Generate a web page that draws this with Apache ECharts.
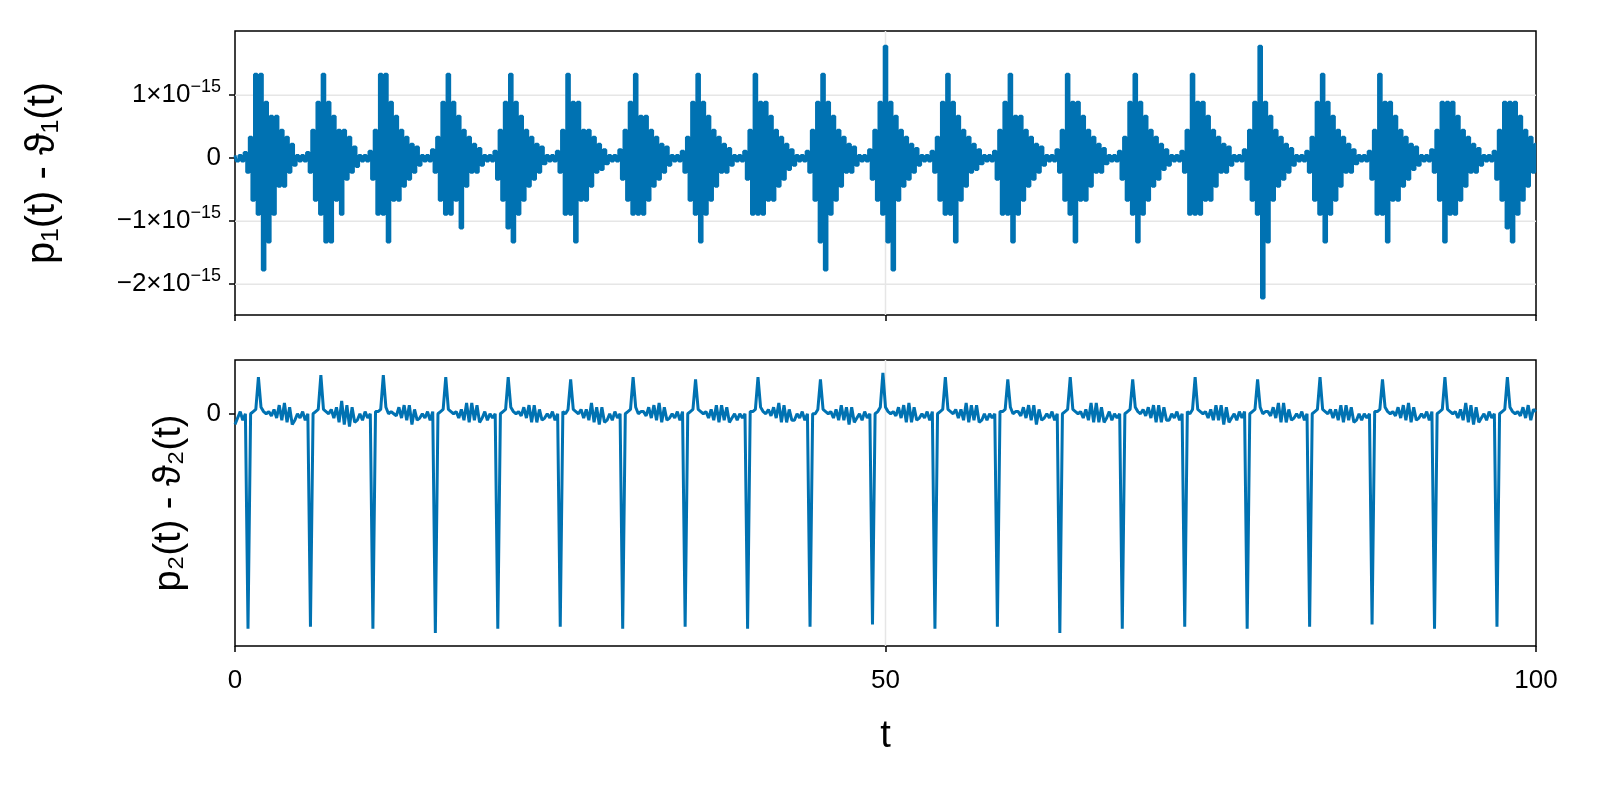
<!DOCTYPE html>
<html>
<head>
<meta charset="utf-8">
<script src="https://cdn.jsdelivr.net/npm/echarts@6/dist/echarts.min.js"></script>
<style>html,body{margin:0;padding:0;background:#fff;overflow:hidden}#chart{width:1600px;height:800px}</style>
</head>
<body>
<div id="chart"></div>
<script>
// sample step for both series (t units)
var tStep = 0.2;
var eps = 2.220446e-16;

// p1 - theta1, in units of eps, one row per oscillation period
var p1Quanta = [
  0.2,-0.2,0.2,-0.2,0.4,-1,1.5,-3,6,-4,6,-8,4,-6,3,-4,3,-2,2,-2,1.5,-1,1,-0.5,
  0.2,-0.2,0.2,-0.2,0.4,-1,2,-3,4,-4,6,-6,4,-6,3,-3,2,-4,2,-1.5,1.5,-1,0.8,-0.6,
  0.2,-0.2,0.2,-0.2,0.5,-1.5,2,-4,6,-4,6,-6,4,-3,3,-3,2,-2,1.5,-1.5,1,-1,0.8,-0.5,
  0.2,-0.2,0.2,-0.2,0.6,-1,1.5,-3,4,-4,6,-4,4,-3,3,-5,2,-2,1.5,-1,1,-1,0.7,-0.5,
  0.2,-0.2,0.2,-0.2,0.5,-1.5,2,-3,4,-5,6,-6,4,-4,3,-3,2,-2,1.5,-1.5,1,-1,0.8,-0.4,
  0.2,-0.2,0.2,-0.2,0.5,-1,2,-4,6,-4,4,-6,4,-3,2,-3,2,-2,1.5,-1,1,-0.8,0.6,-0.4,
  0.2,-0.2,0.2,-0.2,0.6,-1.5,2,-3,4,-4,6,-4,3,-4,3,-3,2,-2,1.5,-1.5,1,-1,0.8,-0.5,
  0.2,-0.2,0.2,-0.2,0.5,-1,1.5,-3,4,-4,6,-6,4,-4,3,-3,2,-2,1.5,-1,1,-1,0.7,-0.5,
  0.2,-0.2,0.2,-0.2,0.5,-1.5,2,-4,6,-4,4,-4,4,-3,3,-3,2,-2,1.5,-1.5,1,-0.8,0.6,-0.5,
  0.2,-0.2,0.2,-0.2,0.5,-1,2,-3,4,-6,6,-8,4,-4,3,-3,2,-2,1.5,-1,1,-1,0.8,-0.5,
  0.2,-0.2,0.2,-0.2,0.6,-1.5,2,-3,4,-4,8,-6,4,-8,3,-3,2,-2,1.5,-1.5,1,-1,0.7,-0.5,
  0.2,-0.2,0.2,-0.2,0.5,-1,1.5,-3,4,-4,6,-4,4,-6,3,-3,2,-2,1.5,-1,1,-0.8,0.6,-0.4,
  0.2,-0.2,0.2,-0.2,0.5,-1.5,2,-4,4,-4,6,-6,3,-4,3,-3,2,-2,1.5,-1.5,1,-1,0.8,-0.5,
  0.2,-0.2,0.2,-0.2,0.6,-1,2,-3,6,-4,4,-6,4,-3,3,-3,2,-2,1.5,-1,1,-1,0.7,-0.4,
  0.2,-0.2,0.2,-0.2,0.5,-1.5,1.5,-3,4,-4,6,-6,4,-4,3,-3,2,-2,1.5,-1.5,1,-0.8,0.6,-0.5,
  0.2,-0.2,0.2,-0.2,0.5,-1,2,-4,6,-4,4,-4,4,-3,3,-3,2,-2,1.5,-1,1,-1,0.8,-0.5,
  0.2,-0.2,0.2,-0.2,0.6,-1.5,2,-3,4,-4,8,-10,4,-6,3,-3,2,-2,1.5,-1.5,1,-1,0.7,-0.5,
  0.2,-0.2,0.2,-0.2,0.5,-1,1.5,-3,4,-4,6,-6,4,-4,3,-3,2,-2,1.5,-1,1,-1,0.6,-0.4,
  0.2,-0.2,0.2,-0.2,0.5,-1.5,2,-4,6,-4,4,-6,4,-3,3,-3,2,-2,1.5,-1.5,1,-0.8,0.8,-0.5,
  0.2,-0.2,0.2,-0.2,0.6,-1,2,-3,4,-6,4,-4,4,-4,3,-3,2,-2,1.5,-1,1,-1,0.7,-0.5,
  0.2,-0.2,0.2,-0.2,0.5,-1.5,2,-3,4,-5,4,-6,4,-4,3,-3,2,-2,1.5,-1,1
];

// p2 - theta2 (arbitrary scale, spikes near -1)
var p2Values = [
  -0.05,-0.02,0.01,-0.03,0.0,-1.0,0.0,0.01,0.02,0.17,0.03,0.01,0.0,0.01,-0.01,0.02,-0.02,0.04,-0.03,0.05,-0.04,0.03,-0.05,-0.03,
  0.0,-0.02,0.01,-0.03,0.0,-0.99,0.0,0.01,0.02,0.18,0.02,0.01,0.0,0.02,-0.02,0.03,-0.04,0.06,-0.05,0.04,-0.06,0.03,-0.04,-0.03,
  0.0,-0.03,0.01,-0.02,0.0,-1.0,0.01,0.01,0.02,0.18,0.03,0.0,0.01,0.0,-0.01,0.03,-0.02,0.04,-0.03,0.04,-0.05,0.02,-0.03,-0.02,
  0.0,-0.02,0.01,-0.03,0.01,-1.02,0.0,0.01,0.02,0.17,0.02,0.01,0.0,0.01,-0.02,0.02,-0.03,0.05,-0.04,0.05,-0.03,0.04,-0.04,-0.02,
  0.01,-0.03,0.0,-0.02,0.0,-1.0,0.0,0.01,0.02,0.17,0.03,0.01,0.0,0.01,-0.01,0.03,-0.02,0.04,-0.04,0.04,-0.04,0.02,-0.03,-0.02,
  0.0,-0.02,0.01,-0.03,0.0,-0.99,0.01,0.0,0.02,0.16,0.02,0.01,0.0,0.02,-0.02,0.02,-0.03,0.05,-0.04,0.03,-0.05,0.03,-0.04,-0.03,
  0.0,-0.03,0.01,-0.02,0.0,-1.0,0.0,0.01,0.02,0.17,0.03,0.0,0.01,0.01,-0.01,0.03,-0.02,0.04,-0.03,0.05,-0.04,0.03,-0.03,-0.02,
  0.0,-0.02,0.01,-0.03,0.01,-0.99,0.0,0.01,0.02,0.16,0.02,0.01,0.0,0.01,-0.02,0.02,-0.03,0.04,-0.04,0.04,-0.03,0.03,-0.04,-0.02,
  0.0,-0.03,0.0,-0.02,0.0,-1.0,0.01,0.01,0.02,0.17,0.03,0.01,0.0,0.02,-0.01,0.03,-0.02,0.05,-0.04,0.04,-0.04,0.02,-0.03,-0.03,
  0.0,-0.02,0.01,-0.03,0.0,-0.99,0.0,0.0,0.02,0.16,0.02,0.01,0.0,0.01,-0.02,0.02,-0.03,0.04,-0.03,0.03,-0.05,0.03,-0.04,-0.02,
  0.0,-0.03,0.01,-0.02,0.0,-0.98,0.0,0.01,0.03,0.19,0.03,0.01,0.0,0.01,-0.01,0.03,-0.02,0.04,-0.04,0.05,-0.04,0.03,-0.03,-0.02,
  0.0,-0.02,0.01,-0.03,0.01,-1.0,0.0,0.01,0.02,0.17,0.02,0.01,0.0,0.02,-0.02,0.02,-0.03,0.05,-0.04,0.04,-0.03,0.04,-0.04,-0.03,
  0.0,-0.03,0.0,-0.02,0.0,-0.99,0.01,0.01,0.02,0.16,0.03,0.0,0.01,0.01,-0.01,0.03,-0.02,0.04,-0.03,0.04,-0.05,0.02,-0.03,-0.02,
  0.0,-0.02,0.01,-0.03,0.0,-1.02,0.0,0.01,0.02,0.17,0.02,0.01,0.0,0.01,-0.02,0.02,-0.03,0.05,-0.04,0.05,-0.04,0.03,-0.04,-0.02,
  0.01,-0.03,0.0,-0.02,0.0,-1.0,0.0,0.01,0.02,0.16,0.03,0.01,0.0,0.02,-0.01,0.03,-0.02,0.04,-0.04,0.04,-0.04,0.03,-0.03,-0.03,
  0.0,-0.02,0.01,-0.03,0.0,-0.99,0.01,0.0,0.02,0.17,0.02,0.01,0.0,0.01,-0.02,0.02,-0.03,0.04,-0.03,0.04,-0.05,0.03,-0.04,-0.02,
  0.0,-0.03,0.01,-0.02,0.01,-1.0,0.0,0.01,0.02,0.16,0.03,0.0,0.01,0.01,-0.01,0.03,-0.02,0.05,-0.04,0.05,-0.04,0.02,-0.03,-0.02,
  0.0,-0.02,0.01,-0.03,0.0,-0.99,0.0,0.01,0.02,0.17,0.02,0.01,0.0,0.02,-0.02,0.02,-0.03,0.04,-0.04,0.04,-0.03,0.03,-0.04,-0.03,
  0.0,-0.03,0.0,-0.02,0.0,-0.98,0.01,0.01,0.02,0.16,0.03,0.01,0.0,0.01,-0.01,0.03,-0.02,0.04,-0.03,0.05,-0.04,0.03,-0.03,-0.02,
  0.0,-0.02,0.01,-0.03,0.01,-1.0,0.0,0.01,0.02,0.17,0.02,0.01,0.0,0.01,-0.02,0.02,-0.03,0.05,-0.04,0.04,-0.05,0.03,-0.04,-0.02,
  0.0,-0.03,0.01,-0.02,0.0,-0.99,0.0,0.01,0.02,0.17,0.03,0.01,0.0,0.01,-0.01,0.03,-0.02,0.04,-0.03,0.02,0.01
];

var xTicks = [0, 50, 100];
var p1Ticks = [-2e-15, -1e-15, 0, 1e-15];
var p2Ticks = [0];
var p1Range = [-2.49e-15, 2.02e-15];
var p2Range = [-1.08, 0.25];

var p1Data = p1Quanta.map(function (q, i) { return [i * tStep, q * eps]; });
var p2Data = p2Values.map(function (v, i) { return [i * tStep, v]; });

var blue = '#0072b2';
var fontFam = '"Liberation Sans", Arial, sans-serif';

function sciLabel(v) {
    if (v === 0) return '0';
    var m = Math.round(v / 1e-15);
    return (m < 0 ? '\u2212' + (-m) : m) + '\u00d710{sup|\u221215}';
}

// light grid lines drawn as plain line series underneath the data
function gridSeries(axis, pts) {
    return {type: 'line', xAxisIndex: axis, yAxisIndex: axis, data: pts, showSymbol: false,
        silent: true, z: 1, lineStyle: {color: '#e6e6e6', width: 1.5}};
}
var gridSeriesList = [];
[1e-15, -1e-15, -2e-15].forEach(function (v) {
    gridSeriesList.push(gridSeries(0, [[0, v], [100, v]]));
});
gridSeriesList.push(gridSeries(0, [[50, p1Range[0]], [50, p1Range[1]]]));
gridSeriesList.push(gridSeries(1, [[50, p2Range[0]], [50, p2Range[1]]]));

var chart = echarts.init(document.getElementById('chart'));
chart.setOption({
    animation: false,
    textStyle: {fontFamily: fontFam},
    grid: [
        {left: 235, right: 64, top: 31, height: 284, show: true, borderColor: '#000', borderWidth: 1.5},
        {left: 235, right: 64, top: 360, height: 286, show: true, borderColor: '#000', borderWidth: 1.5}
    ],
    xAxis: [
        {gridIndex: 0, type: 'value', min: 0, max: 100,
         axisLine: {show: false, onZero: false}, splitLine: {show: false}, axisLabel: {show: false},
         axisTick: {show: true, customValues: xTicks, length: 6, lineStyle: {color: '#000', width: 1.5}}},
        {gridIndex: 1, type: 'value', min: 0, max: 100,
         axisLine: {show: false, onZero: false}, splitLine: {show: false},
         axisTick: {show: true, customValues: xTicks, length: 6, lineStyle: {color: '#000', width: 1.5}},
         axisLabel: {customValues: xTicks, fontSize: 26, color: '#000', margin: 22, fontFamily: fontFam},
         name: 't', nameLocation: 'middle', nameGap: 72, nameTextStyle: {fontSize: 38, color: '#000', fontFamily: fontFam}}
    ],
    yAxis: [
        {gridIndex: 0, type: 'value', min: p1Range[0], max: p1Range[1],
         axisLine: {show: false, onZero: false}, splitLine: {show: false},
         axisTick: {show: true, customValues: p1Ticks, length: 6, lineStyle: {color: '#000', width: 1.5}},
         axisLabel: {customValues: p1Ticks, formatter: sciLabel, fontSize: 26, color: '#000', margin: 14,
             fontFamily: fontFam,
             rich: {sup: {fontSize: 18, verticalAlign: 'top', padding: [0, 0, 16, 0], color: '#000', fontFamily: fontFam}}},
         name: 'p\u2081(t) - \u03d1\u2081(t)', nameLocation: 'middle', nameGap: 172, nameRotate: 90,
         nameTextStyle: {fontSize: 40, color: '#000', fontFamily: fontFam}},
        {gridIndex: 1, type: 'value', min: p2Range[0], max: p2Range[1],
         axisLine: {show: false, onZero: false}, splitLine: {show: false},
         axisTick: {show: true, customValues: p2Ticks, length: 6, lineStyle: {color: '#000', width: 1.5}},
         axisLabel: {customValues: p2Ticks, fontSize: 26, color: '#000', margin: 14, fontFamily: fontFam},
         name: 'p\u2082(t) - \u03d1\u2082(t)', nameLocation: 'middle', nameGap: 46, nameRotate: 90,
         nameTextStyle: {fontSize: 38, color: '#000', fontFamily: fontFam}}
    ],
    series: gridSeriesList.concat([
        {type: 'line', xAxisIndex: 0, yAxisIndex: 0, data: p1Data, showSymbol: false, step: 'middle',
         lineStyle: {color: blue, width: 3}, z: 3},
        {type: 'line', xAxisIndex: 1, yAxisIndex: 1, data: p2Data, showSymbol: false,
         lineStyle: {color: blue, width: 3}, z: 3}
    ])
});
</script>
</body>
</html>
